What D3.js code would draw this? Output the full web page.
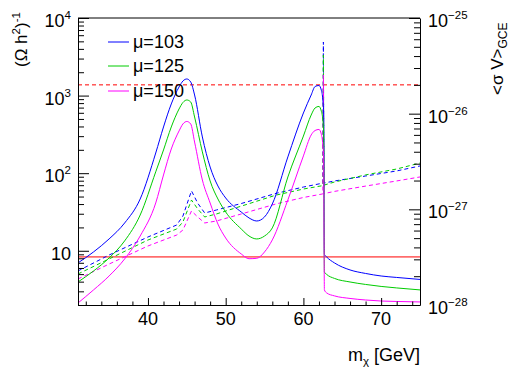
<!DOCTYPE html>
<html>
<head>
<meta charset="utf-8">
<script src="https://cdn.jsdelivr.net/npm/d3@7"></script>
<style>
html,body{margin:0;padding:0;background:#fff;}
svg text{font-family:"Liberation Sans",Arial,Helvetica,sans-serif;}
</style>
</head>
<body>
<svg id="chart" width="519" height="373"></svg>
<script>
// ---------------- data ----------------
const seriesNames = ["μ=103", "μ=125", "μ=150"];
const seriesColors = ["#0000ff", "#00cc00", "#ff00ff"];

// (Omega h^2)^-1 vs m_chi (left axis, solid)
const massSolid = [31,33,35,37,39,41,42,43,44,44.5,45,45.5,46,47,48,49,50,52,53,54,55,56,58,60,61,61.5,62,62.3,62.5,62.6,62.7,63,64,66,68,70,72,75];
const omegaInv103 = [6.97,9.66,14.2,22.8,46.5,182,394,780,1291,1542,1637,1497,1018,293,120,68.4,47.9,31.6,26.5,24.2,27.3,40.1,162,597,1018,1310,1349,1181,878,615,9.0,8.3,6.97,5.66,5.10,4.73,4.53,4.27];
const omegaInv125 = [3.96,5.49,8.08,13.4,28.9,104,199,394,672,815,878,827,530,188,79.3,46.5,31.6,19.1,15.5,14.2,15.5,19.7,89.3,301,562,692,724,633,485,340,5.33,4.95,4.40,3.96,3.68,3.47,3.32,3.13];
const omegaInv150 = [2.12,3.13,4.73,7.84,15.5,41.3,94.8,205,350,431,464,431,252,81.7,41.3,22.1,14.6,9.1,7.9,8.0,9.66,13.8,45.2,167,311,355,366,320,231,162,3.13,2.86,2.62,2.43,2.32,2.25,2.22,2.19];

// <sigma v> vs m_chi (right axis, dashed)
const massDashed = [31,35,40,43.7,44.5,45.6,46.4,47.3,48.8,52,56.5,60,62.5,62.57,62.64,64,68,72,75];
const sigv103 = [2.27e-28,3.33e-28,5.14e-28,6.86e-28,8.51e-28,1.56e-27,1.16e-27,9.16e-28,9.84e-28,1.15e-27,1.47e-27,1.71e-27,1.88e-27,5.61e-26,1.88e-27,1.98e-27,2.23e-27,2.52e-27,2.84e-27];
const sigv125 = [2.11e-28,3.03e-28,4.78e-28,6.23e-28,7.38e-28,1.25e-27,1.01e-27,8.32e-28,8.94e-28,1.08e-27,1.41e-27,1.63e-27,1.77e-27,4.10e-26,1.79e-27,1.93e-27,2.29e-27,2.64e-27,3.05e-27];
const sigv150 = [1.87e-28,2.68e-28,4.14e-28,5.39e-28,6.08e-28,9.61e-28,8.32e-28,7.20e-28,7.55e-28,8.94e-28,1.14e-27,1.33e-27,1.45e-27,2.54e-26,1.46e-27,1.54e-27,1.75e-27,1.98e-27,2.18e-27];

// reference lines
const omegaInvPlanck = 8.33;     // left axis, solid red
const sigvGCE = 2.0e-26;         // right axis, dashed red

// ticks
const xMajorTicks = [40,50,60,70];
const xMinorTicks = [32,34,36,38,42,44,46,48,52,54,56,58,62,64,66,68,72,74];
const leftTickExps = [1,2,3,4];
const rightTickExps = [-25,-26,-27,-28];

// ---------------- layout ----------------
const svg = d3.select("#chart");
const L = 78, R = 420, T = 18, B = 305;
const x = d3.scaleLinear().domain([31,75]).range([L,R]);
const yL = d3.scaleLog().domain([2,1e4]).range([B,T]);
const yR = d3.scaleLog().domain([1e-28,1e-25]).range([B,T]);

function minorLog(scale){
  const [a,b] = scale.domain();
  const out=[];
  for(let e=Math.floor(Math.log10(a)); e<=Math.ceil(Math.log10(b)); e++){
    for(let k=2;k<=9;k++){ const v=k*Math.pow(10,e); if(v>=a*0.999 && v<=b*1.001) out.push(v); }
  }
  return out;
}

svg.append("defs").append("clipPath").attr("id","clip")
  .append("rect").attr("x",L).attr("y",T).attr("width",R-L).attr("height",B-T);

const plot = svg.append("g").attr("clip-path","url(#clip)");

// reference lines
plot.append("line").attr("x1",L).attr("x2",R).attr("y1",yL(omegaInvPlanck)).attr("y2",yL(omegaInvPlanck))
  .attr("stroke","#ff0000").attr("stroke-width",1);
plot.append("line").attr("x1",L).attr("x2",R).attr("y1",yR(sigvGCE)).attr("y2",yR(sigvGCE))
  .attr("stroke","#ff0000").attr("stroke-width",1).attr("stroke-dasharray","4,3");

// dashed sigma v curves
const dashedSets = [sigv103, sigv125, sigv150];
const lineR = d3.line().x(d=>x(d[0])).y(d=>yR(d[1]));
dashedSets.forEach((arr,i)=>{
  plot.append("path").datum(massDashed.map((m,j)=>[m,arr[j]]))
    .attr("d",lineR).attr("fill","none").attr("stroke",seriesColors[i])
    .attr("stroke-width",1).attr("stroke-dasharray","4,3");
});

// solid relic curves
const solidSets = [omegaInv103, omegaInv125, omegaInv150];
const lineL = d3.line().x(d=>x(d[0])).y(d=>yL(d[1])).curve(d3.curveMonotoneX);
solidSets.forEach((arr,i)=>{
  plot.append("path").datum(massSolid.map((m,j)=>[m,arr[j]]))
    .attr("d",lineL).attr("fill","none").attr("stroke",seriesColors[i]).attr("stroke-width",1);
});

// ---------------- axes ----------------
const axisColor = "#000";
function styleAxis(g){
  g.selectAll("path.domain").attr("stroke",axisColor);
  g.selectAll("line").attr("stroke",axisColor);
}
const gL = svg.append("g").attr("transform",`translate(${L},0)`);
gL.call(d3.axisRight(yL).tickValues(leftTickExps.map(e=>Math.pow(10,e))).tickSize(11).tickSizeOuter(0).tickFormat(""));
gL.append("g").call(d3.axisRight(yL).tickValues(minorLog(yL)).tickSize(6).tickSizeOuter(0).tickFormat("")).select(".domain").remove();
styleAxis(gL);
const gR = svg.append("g").attr("transform",`translate(${R},0)`);
gR.call(d3.axisLeft(yR).tickValues(rightTickExps.map(e=>Math.pow(10,e))).tickSize(11).tickSizeOuter(0).tickFormat(""));
gR.append("g").call(d3.axisLeft(yR).tickValues(minorLog(yR)).tickSize(6).tickSizeOuter(0).tickFormat("")).select(".domain").remove();
styleAxis(gR);
const gB = svg.append("g").attr("transform",`translate(0,${B})`);
gB.call(d3.axisTop(x).tickValues(xMajorTicks).tickSize(7).tickSizeOuter(0).tickFormat(""));
gB.append("g").call(d3.axisTop(x).tickValues(xMinorTicks).tickSize(3.5).tickSizeOuter(0).tickFormat("")).select(".domain").remove();
styleAxis(gB);
svg.append("line").attr("x1",L).attr("x2",R).attr("y1",T).attr("y2",T).attr("stroke","#000");

// tick labels
const fs = 18, sfs = 11.5;
xMajorTicks.forEach(v=>{
  svg.append("text").attr("x",x(v)).attr("y",325).attr("text-anchor","middle")
    .attr("font-size",fs).text(v);
});
leftTickExps.forEach(e=>{
  const t = svg.append("text").attr("x",71).attr("y",yL(Math.pow(10,e))+9)
    .attr("text-anchor","end").attr("font-size",fs);
  t.append("tspan").text("10");
  if(e!==1) t.append("tspan").attr("dy",-8).attr("font-size",sfs).text(e);
});
rightTickExps.forEach(e=>{
  const t = svg.append("text").attr("x",428).attr("y",yR(Math.pow(10,e))+9)
    .attr("text-anchor","start").attr("font-size",fs);
  t.append("tspan").text("10");
  t.append("tspan").attr("dy",-8).attr("font-size",sfs).text("\u2212"+Math.abs(e));
});

// axis titles
const xt = svg.append("text").attr("x",420).attr("y",361).attr("text-anchor","end").attr("font-size",fs);
xt.append("tspan").text("m");
xt.append("tspan").attr("dy",4).attr("font-size",sfs).text("χ");
xt.append("tspan").attr("dy",-4).text(" [GeV]");

const lt = svg.append("text").attr("transform","translate(27,67) rotate(-90)").attr("font-size",17);
lt.append("tspan").text("(Ω h");
lt.append("tspan").attr("dy",-7).attr("font-size",sfs).text("2");
lt.append("tspan").attr("dy",7).text(")");
lt.append("tspan").attr("dy",-7).attr("font-size",sfs).text("-1");

const rt = svg.append("text").attr("transform","translate(503,95) rotate(-90)").attr("font-size",17);
rt.append("tspan").text("<σ V>");
rt.append("tspan").attr("dy",4).attr("font-size",12).text("GCE");

// legend
const legY = [42, 66, 91];
seriesNames.forEach((n,i)=>{
  svg.append("line").attr("x1",108).attr("x2",129).attr("y1",legY[i]).attr("y2",legY[i])
    .attr("stroke",seriesColors[i]).attr("stroke-width",1);
  svg.append("text").attr("x",133).attr("y",legY[i]+6).attr("font-size",fs).text(n);
});
</script>
</body>
</html>
